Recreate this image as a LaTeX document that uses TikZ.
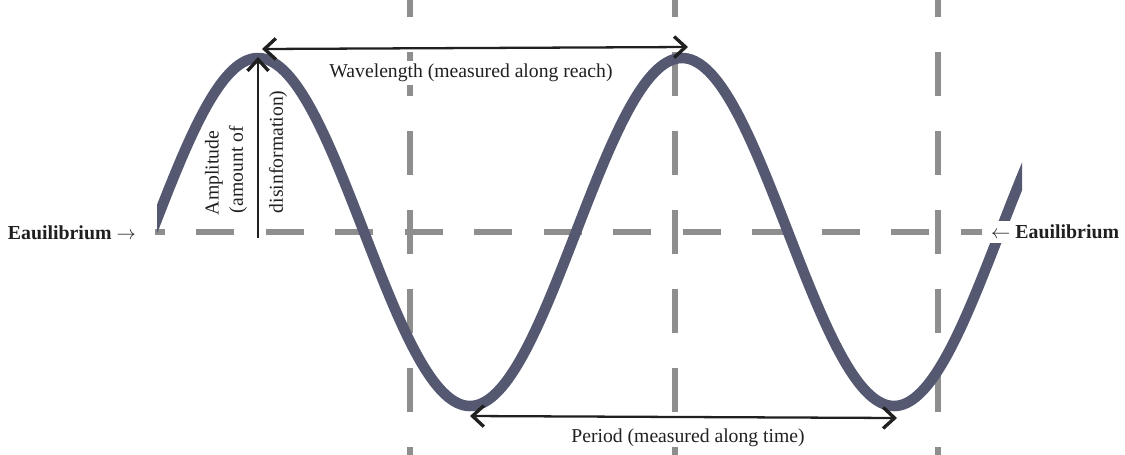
\documentclass[tikz,border=0pt]{standalone}
\usepackage{fontspec}
\setmainfont{Liberation Serif}
\usetikzlibrary{arrows.meta}
\definecolor{wavecol}{HTML}{545870}
\definecolor{dashcol}{HTML}{8E8E8E}
\definecolor{inkcol}{HTML}{202020}
\tikzset{
  barb/.tip={Straight Barb[length=6.5pt,width=12pt,line width=1.9pt]},
  wave/.style={draw=wavecol, line width=6pt, line cap=round},
  dashseg/.style={draw=dashcol, line width=3.4pt},
  measure/.style={draw=inkcol, line width=1.3pt, arrows={barb-barb}},
  upmeasure/.style={draw=inkcol, line width=1.3pt, arrows={-barb}},
  lbl/.style={font=\fontsize{11.2}{13}\selectfont, text=inkcol, inner sep=1.5pt},
  whitelbl/.style={lbl, fill=white},
  eqlbl/.style={font=\bfseries\fontsize{11.3}{13}\selectfont, text=inkcol, fill=white, inner sep=2pt}
}
\begin{document}
\begin{tikzpicture}[x=0.02cm, y=-0.02cm]
\useasboundingbox[fill=white] (0,0) rectangle (1125,454);

% horizontal equilibrium dashes
\begin{scope}
  \clip (155,200) rectangle (982,265);
  \foreach \c in {0,...,12} {
    \draw[dashseg] ({145.5+69.5*\c-19},232) -- ({145.5+69.5*\c+19},232);
  }
\end{scope}

% vertical dashed lines
\begin{scope}
  \clip (0,0) rectangle (1125,454);
  \foreach \vx in {410,675,938} {
    \foreach \k in {-3,...,3} {
      \draw[dashseg] (\vx,{232+79*\k-22}) -- (\vx,{232+79*\k+22});
    }
  }
\end{scope}

% the wave
\begin{scope}
  \clip (157,0) rectangle (1022,454);
  \draw[wave] plot[domain=140:1035, samples=300] (\x, {232 - 174*sin((\x-152)/424*360)});
\end{scope}

% labels
\node[whitelbl] (wltext) at (471,73) {Wavelength (measured along reach)};
\node[lbl] (ptext) at (688,438) {Period (measured along time)};
\node[eqlbl, anchor=west] (eqL) at (4,233) {Eauilibrium $\rightarrow$};
\node[eqlbl, anchor=east] (eqR) at (1123,232) {$\leftarrow$ Eauilibrium};
\node[lbl, rotate=90, anchor=west] (amp1) at (214,218) {Amplitude};
\node[lbl, rotate=90, anchor=west] (amp2) at (238,216) {(amount of};
\node[lbl, rotate=90, anchor=west] (amp3) at (278,216) {disinformation)};

% measurement arrows
\coordinate (ampbot) at (258,238);
\coordinate (amptop) at (258,57);
\coordinate (wlL) at (262,49);
\coordinate (wlR) at (688,47);
\coordinate (perL) at (470,416);
\coordinate (perR) at (897,418);
\draw[upmeasure] (ampbot) -- (amptop);
\draw[measure] (wlL) -- (wlR);
\draw[measure] (perL) -- (perR);
\end{tikzpicture}
\end{document}
